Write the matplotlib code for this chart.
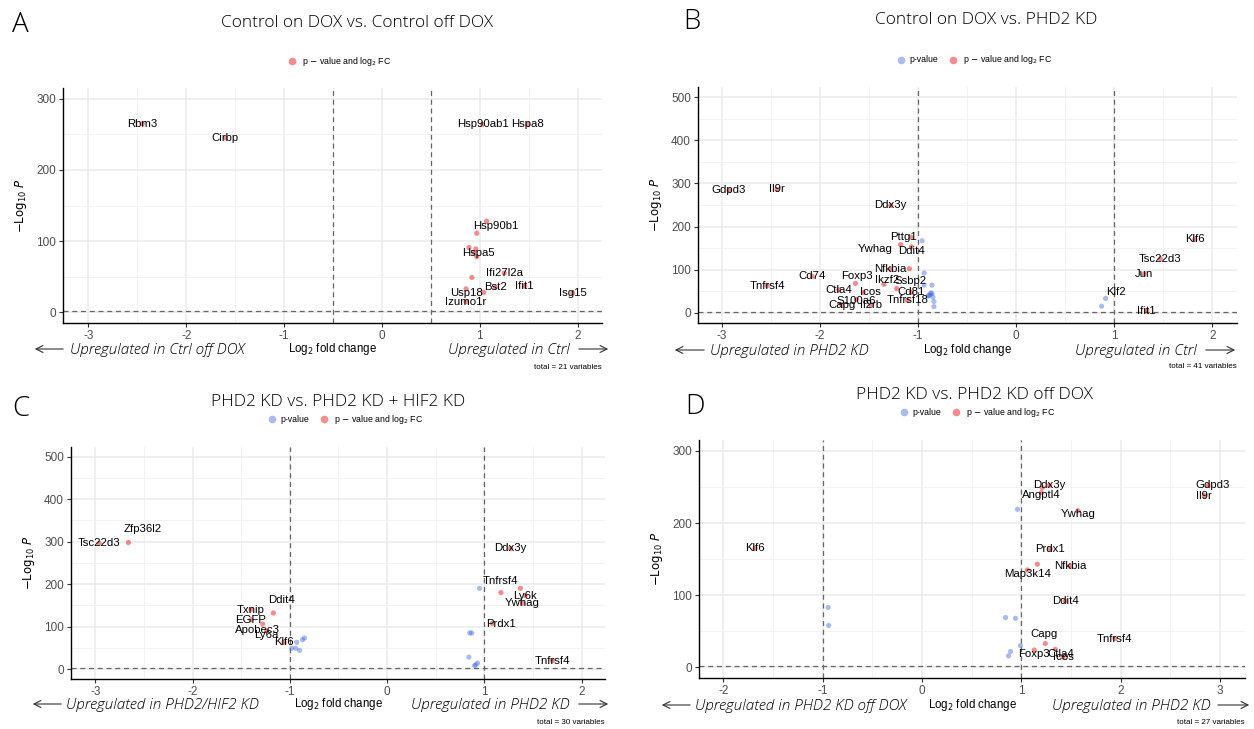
import matplotlib
matplotlib.use('Agg')
import matplotlib.pyplot as plt
import numpy as np

# ---------------- data ----------------
# panel A: Control on DOX vs. Control off DOX
a_genes = ['Rbm3', 'Cirbp', 'Hsp90ab1', 'Hspa8', '', 'Hsp90b1', '', '', '', 'Hspa5',
           '', 'Ifi27l2a', 'Bst2', '', 'Ifit1', 'Isg15', 'Usp18', 'Izumo1r']
a_fc = [-2.45, -1.60, 1.03, 1.49, 1.07, 0.97, 0.89, 0.96, 0.97, 0.94,
        0.92, 1.25, 1.16, 1.04, 1.46, 1.95, 0.86, 0.86]
a_logp = [265, 245, 264, 264, 128, 111, 91, 89, 78, 84,
          49, 55, 35, 28, 37, 27, 33, 15]
a_sig = ['fc'] * len(a_genes)

# panel B: Control on DOX vs. PHD2 KD
b_genes = ['Gdpd3', 'Il9r', 'Ddx3y', 'Pttg1', 'Ywhag', 'Ddit4', 'Nfkbia', '', 'Cd74', 'Tnfrsf4',
           'Foxp3', 'Ikzf2', '', 'Ctla4', 'Icos', 'S100a6', 'Capg', 'Il2rb', 'Cd81', 'Tnfrsf18',
           'Klf6', 'Tsc22d3', 'Jun', 'Ifit1',
           '', 'Klf2', '', 'Ssbp2', '', '', '', '', '', '', '', '', '', '']
b_fc = [-2.93, -2.44, -1.28, -1.07, -1.18, -1.07, -1.09, -1.28, -2.08, -2.54,
        -1.64, -1.35, -1.22, -1.81, -1.56, -1.63, -1.78, -1.48, -1.07, -1.11,
        1.82, 1.47, 1.30, 1.33,
        0.91, 0.87, -0.96, -0.94, -0.94, -0.86, -0.88, -0.90, -0.86, -0.85, -0.89, -0.84, -0.84, -0.87]
b_logp = [284, 286, 249, 175, 158, 153, 102, 101, 84, 63,
          68, 66, 56, 53, 47, 31, 18, 18, 47, 29,
          170, 125, 90, 5,
          33, 15, 167, 92, 64, 64, 42, 38, 44, 36, 40, 26, 14, 46]
b_sig = ['fc'] * 24 + ['p'] * 14

# panel C: PHD2 KD vs. PHD2 KD + HIF2 KD
c_genes = ['Tsc22d3', 'Zfp36l2', 'Ddx3y', '', '', 'Ly6k', 'Ywhag', 'Prdx1', 'Tnfrsf4',
           'Ddit4', 'Txnip', 'EGFP', 'Apobec3', 'Ly6a', 'Klf6',
           'Tnfrsf4', '', '', '', '', '', '', '', '', '', '', '', '']
c_fc = [-2.96, -2.66, 1.27, 1.37, 1.17, 1.42, 1.39, 1.08, 1.70,
        -1.17, -1.40, -1.40, -1.28, -1.24, -1.06,
        0.95, -0.85, -0.87, -0.93, -0.98, -0.94, -0.90, 0.87, 0.85, 0.84, 0.93, 0.91, 0.90]
c_logp = [296, 298, 284, 190, 180, 173, 155, 107, 20,
          132, 140, 116, 106, 90, 63,
          190, 73, 69, 63, 49, 49, 44, 85, 85, 28, 14, 10, 8]
c_sig = ['fc'] * 15 + ['p'] * 13

# panel D: PHD2 KD vs. PHD2 KD off DOX
d_genes = ['Gdpd3', 'Il9r', 'Ddx3y', '', 'Angptl4', 'Ywhag', 'Klf6', 'Prdx1', '', 'Nfkbia',
           'Map3k14', 'Ddit4', 'Capg', 'Tnfrsf4', 'Foxp3', 'Ctla4', 'Icos',
           '', '', '', '', '', '', '', '']
d_fc = [2.88, 2.84, 1.28, 1.21, 1.20, 1.57, -1.68, 1.29, 1.16, 1.49,
        1.06, 1.44, 1.24, 1.94, 1.13, 1.34, 1.42,
        0.96, -0.945, -0.94, 0.84, 0.94, 0.99, 0.89, 0.87]
d_logp = [252, 238, 252, 249, 242, 217, 165, 164, 143, 140,
          135, 92, 33, 40, 24, 25, 14,
          219, 83, 58, 69, 68, 30, 22, 16]
d_sig = ['fc'] * 17 + ['p'] * 8

# label nudges in points (style only)
a_nudge = {'Hsp90b1': (14, 5), 'Hspa5': (3, 0), 'Usp18': (0, -3), 'Ifi27l2a': (0, 0)}
b_nudge = {'Pttg1': (-6, 0), 'Ywhag': (-18, -3), 'Ddit4': (0, -3), 'Nfkbia': (-14, 0),
           'Foxp3': (1, 5), 'Ikzf2': (2, 3), 'S100a6': (0, -1), 'Ssbp2': (-10, -6),
           'Klf2': (10, 10), 'Icos': (5, 0)}
c_nudge = {'Zfp36l2': (10, 10), 'Ddit4': (6, 9), 'Tnfrsf4_hi': (15, 5), 'Ly6k': (0, 0),
           'Prdx1': (6, 0), 'Apobec3': (-4, -4), 'Ly6a': (0, -3), 'Klf6': (0, 0)}
d_nudge = {'Gdpd3': (3, 0), 'Ddx3y': (0, 0), 'Angptl4': (0, -2), 'Map3k14': (0, -3),
           'Capg': (-1, 7), 'Foxp3': (0, -3), 'Ctla4': (4, -3), 'Ywhag': (0, -2)}

RED = (0.93, 0.0, 0.0, 0.45)
BLUE = (0.255, 0.41, 0.88, 0.45)

W, H = 1254, 729
fig = plt.figure(figsize=(W / 100, H / 100), dpi=100)

LABEL_FONT = 'Liberation Sans'
TITLE_FONT = 'Open Sans'


def px(x, y):
    # figure pixel -> figure fraction
    return x / W, 1 - y / H


def legend_dot(x, y, col):
    fig.lines.append(plt.Line2D([x / W], [1 - y / H], marker='o', ms=5.5, ls='', mew=0,
                                color=col, transform=fig.transFigure))


def panel(rect, genes, fc, logp, sig, nudge, xlim, ylim, yticks, xticks, vline,
          letter, letter_xy, title, title_xy, legend_xy, two_legend,
          left_txt, right_txt, arrow_px, total_txt, total_xy):
    l, t, r, b = rect
    ax = fig.add_axes([l / W, 1 - b / H, (r - l) / W, (b - t) / H])
    ax.set_xticks(xticks)
    ax.set_yticks(yticks)
    ax.set_xticks([v + 0.5 for v in xticks[:-1]] + [xticks[0] - 0.5, xticks[-1] + 0.5], minor=True)
    ax.set_yticks([v + 50 for v in yticks], minor=True)
    ax.set_xlim(*xlim)
    ax.set_ylim(*ylim)
    ax.grid(True, which='major', color='#ebebeb', lw=1.1)
    ax.grid(True, which='minor', color='#f2f2f2', lw=0.7)
    ax.set_axisbelow(True)
    for s in ['top', 'right']:
        ax.spines[s].set_visible(False)
    for s in ['left', 'bottom']:
        ax.spines[s].set_color('black')
        ax.spines[s].set_linewidth(1.0)
    ax.tick_params(which='major', length=3, width=0.8, color='#333333', labelsize=8.5,
                   labelcolor='#4d4d4d', pad=2)
    ax.tick_params(which='minor', length=0)
    ax.set_xticklabels([f'{v:g}' for v in xticks], fontfamily=LABEL_FONT)
    ax.set_yticklabels([f'{v:g}' for v in yticks], fontfamily=LABEL_FONT)

    ax.axvline(-vline, ls=(0, (4, 3)), color='#666666', lw=0.9, zorder=1)
    ax.axvline(vline, ls=(0, (4, 3)), color='#666666', lw=0.9, zorder=1)
    ax.axhline(-np.log10(0.05), ls=(0, (4, 3)), color='#666666', lw=0.9, zorder=1)

    cols = [RED if s == 'fc' else BLUE for s in sig]
    ax.scatter(fc, logp, s=14, c=cols, lw=0, zorder=3)

    seen = set()
    for g, x, y in zip(genes, fc, logp):
        if not g:
            continue
        key = g + '_hi' if (g in seen) else g
        seen.add(g)
        dx, dy = nudge.get(key, (0, 0))
        ax.annotate(g, (x, y), xytext=(dx, dy), textcoords='offset points',
                    ha='center', va='center', fontsize=8.2, fontfamily=LABEL_FONT,
                    color='black', zorder=4)

    ax.set_xlabel('')
    ax.set_ylabel(r'$-\mathrm{Log}_{10}\ \mathit{P}$', fontsize=8.5, labelpad=5)

    fig.text(*px(*letter_xy), letter, fontsize=20, fontfamily=TITLE_FONT,
             fontweight='light', ha='left', va='center')
    fig.text(*px(*title_xy), title, fontsize=12.5, fontfamily=TITLE_FONT,
             fontweight='light', ha='center', va='center')

    # legend
    lx, ly = legend_xy
    if two_legend:
        legend_dot(lx, ly, BLUE)
        fig.text(*px(lx + 8, ly), 'p-value', fontsize=6.3, fontfamily=LABEL_FONT, va='center')
        lx = lx + 52
    legend_dot(lx, ly, RED)
    fig.text(*px(lx + 10, ly), r'p $-$ value and log$_2$ FC', fontsize=6.3,
             fontfamily=LABEL_FONT, va='center')

    # x-axis label and direction arrows
    (la0, la1, ltx, rtx, ra0, ra1, ay) = arrow_px
    fig.text(*px((l + r) / 2, ay), r'Log$_2$ fold change', fontsize=8.3,
             fontfamily=LABEL_FONT, ha='center', va='center')
    fig.text(*px(ltx, ay + 1), left_txt, fontsize=11, fontfamily=TITLE_FONT,
             fontweight='light', style='italic', ha='left', va='center', color='black')
    fig.text(*px(rtx, ay + 1), right_txt, fontsize=11, fontfamily=TITLE_FONT,
             fontweight='light', style='italic', ha='right', va='center', color='black')
    fig.add_artist(matplotlib.patches.FancyArrowPatch(
        px(la1, ay), px(la0, ay), arrowstyle='->,head_length=5,head_width=2.5',
        lw=0.8, color='#333333', transform=fig.transFigure, mutation_scale=1))
    fig.add_artist(matplotlib.patches.FancyArrowPatch(
        px(ra0, ay), px(ra1, ay), arrowstyle='->,head_length=5,head_width=2.5',
        lw=0.8, color='#333333', transform=fig.transFigure, mutation_scale=1))
    fig.text(*px(*total_xy), total_txt, fontsize=5.8, fontfamily=LABEL_FONT,
             ha='right', va='center')
    return ax


panel((63, 88, 602, 323), a_genes, a_fc, a_logp, a_sig, a_nudge,
      (-3.26, 2.25), (-15, 315), [0, 100, 200, 300], [-3, -2, -1, 0, 1, 2], 0.5,
      'A', (12, 25), 'Control on DOX vs. Control off DOX', (357, 23), (292, 61), False,
      'Upregulated in Ctrl off DOX', 'Upregulated in Ctrl',
      (32, 66, 70, 570, 576, 611, 349), 'total = 21 variables', (602, 368))

panel((698, 87, 1237, 323), b_genes, b_fc, b_logp, b_sig, b_nudge,
      (-3.245, 2.25), (-24, 524), [0, 100, 200, 300, 400, 500], [-3, -2, -1, 0, 1, 2], 1,
      'B', (683, 22), 'Control on DOX vs. PHD2 KD', (986, 20), (901, 60), True,
      'Upregulated in PHD2 KD', 'Upregulated in Ctrl',
      (672, 707, 710, 1197, 1203, 1238, 350), 'total = 41 variables', (1237, 367))

panel((71, 447, 605, 679), c_genes, c_fc, c_logp, c_sig, c_nudge,
      (-3.25, 2.24), (-23.5, 523), [0, 100, 200, 300, 400, 500], [-3, -2, -1, 0, 1, 2], 1,
      'C', (12, 409), 'PHD2 KD vs. PHD2 KD + HIF2 KD', (338, 402), (272, 419), True,
      'Upregulated in PHD2/HIF2 KD', 'Upregulated in PHD2 KD',
      (30, 64, 66, 570, 576, 611, 704), 'total = 30 variables', (605, 723))

panel((699, 440, 1245, 678), d_genes, d_fc, d_logp, d_sig, d_nudge,
      (-2.245, 3.25), (-14.7, 315), [0, 100, 200, 300], [-2, -1, 0, 1, 2, 3], 1,
      'D', (685, 407), 'PHD2 KD vs. PHD2 KD off DOX', (974, 395), (904, 412), True,
      'Upregulated in PHD2 KD off DOX', 'Upregulated in PHD2 KD',
      (659, 693, 695, 1211, 1215, 1252, 705), 'total = 27 variables', (1245, 723))

fig.savefig('out.png', dpi=100)
